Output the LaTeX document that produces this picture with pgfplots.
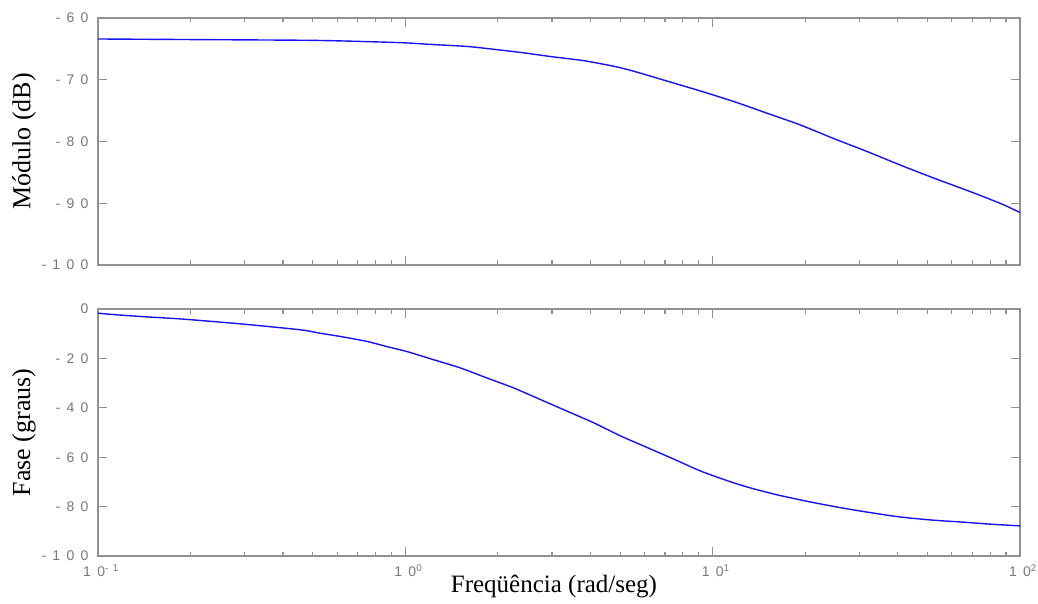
\documentclass[border=0pt]{standalone}
\usepackage{pgfplots}
\pgfplotsset{compat=1.18}
\usepackage{fontspec}
\setmainfont{Liberation Serif}
\newfontfamily\tickfont[LetterSpace=45]{Liberation Sans}
\definecolor{axgray}{RGB}{145,145,145}
\definecolor{tickgray}{RGB}{120,120,120}
\definecolor{curve}{RGB}{20,20,245}

\pgfplotsset{
  bode/.style={
    scale only axis, width=922pt, height=247pt,
    xmin=0.1, xmax=100,
    axis line style={axgray, line width=1.5pt},
    tick style={axgray, line width=1.2pt},
    major tick length=9pt, minor tick length=4.5pt,
    tick label style={font=\fontsize{14}{14}\tickfont, text=tickgray},
    every axis y label/.style={at={(axis description cs:0,0.5)}, xshift=-62pt, rotate=90, anchor=south, inner sep=0pt, font=\fontsize{26}{28}\selectfont},
    every axis x label/.style={at={(axis description cs:0.5,0)}, xshift=-5pt, anchor=north, yshift=-19pt, inner sep=0pt, font=\fontsize{25}{28}\selectfont},
    yticklabel style={xshift=-6pt},
    xticklabel style={yshift=-5pt, xshift=3pt},
    xtick={0.1,1,10,100},
  }
}

\begin{document}
\begin{tikzpicture}
\useasboundingbox (0,0) rectangle (1038pt,-604pt);
\begin{axis}[xmode=log, bode, at={(98pt,-18pt)}, anchor=north west,
  ymin=-100, ymax=-60, ytick={-100,-90,-80,-70,-60},
  yticklabels={-100,-90,-80,-70,-60}, xticklabels={},
  ylabel={Módulo (dB)}]
\addplot[curve, line width=1.4pt, smooth, tension=0.4] coordinates {
(0.1,-63.4) (0.2147,-63.5) (0.454,-63.6) (0.604,-63.7) (0.973,-64.0)
(1.23,-64.3) (1.584,-64.6) (1.886,-65.0) (2.391,-65.6) (3.030,-66.3)
(3.795,-66.9) (4.751,-67.8) (5.517,-68.6) (7.087,-70.2) (9.095,-71.8)
(11.67,-73.5) (14.99,-75.4) (19.24,-77.3) (24.70,-79.5) (31.71,-81.6)
(40.70,-83.8) (52.24,-85.9) (67.07,-87.9) (86.1,-90.0) (100,-91.5)
};
\end{axis}
\begin{axis}[xmode=log, bode, at={(98pt,-309pt)}, anchor=north west,
  ymin=-100, ymax=0, ytick={-100,-80,-60,-40,-20,0},
  yticklabels={-100,-80,-60,-40,-20,0},
  xticklabels={10\textsuperscript{-1},10\textsuperscript{0},10\textsuperscript{1},10\textsuperscript{2}},
  xlabel={Freqüência (rad/seg)}, ylabel={Fase (graus)}]
\addplot[curve, line width=1.4pt, smooth, tension=0.4] coordinates {
(0.1,-1.7) (0.1136,-2.3) (0.1443,-3.2) (0.1849,-4.0) (0.29,-6.0)
(0.454,-8.4) (0.5277,-9.8) (0.613,-11.1) (0.7486,-13.1) (0.8699,-15.2)
(1.0104,-17.2) (1.233,-20.5) (1.506,-23.8) (1.840,-27.9) (2.246,-31.9)
(2.744,-36.6) (3.350,-41.3) (4.089,-46.0) (4.995,-51.3) (6.101,-56.0)
(7.447,-60.7) (9.095,-65.5) (10.57,-68.5) (12.27,-71.2) (14.26,-73.5)
(16.56,-75.5) (20.74,-78.1) (25.97,-80.4) (31.71,-82.2) (40.70,-84.2)
(52.24,-85.5) (63.8,-86.2) (79.9,-87.1) (100,-87.8)
};
\end{axis}
\end{tikzpicture}
\end{document}
